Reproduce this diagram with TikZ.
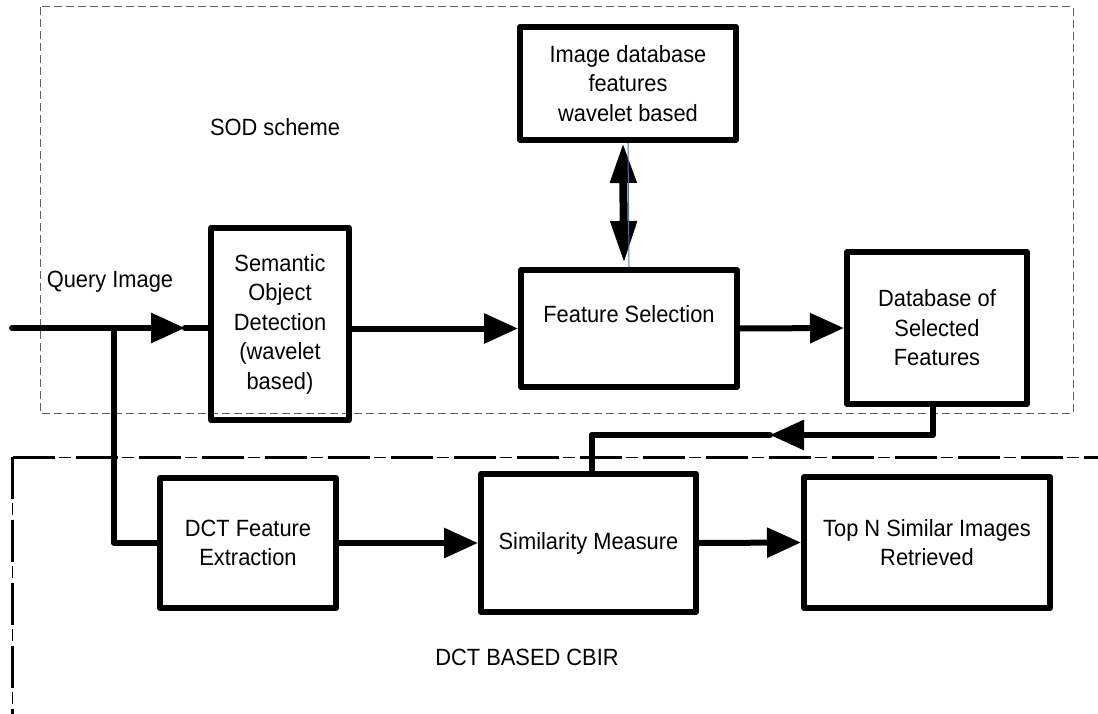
\documentclass[tikz,border=0pt]{standalone}
\usepackage{fontspec}
\setmainfont{Liberation Sans}[FakeStretch=0.93]
\usetikzlibrary{arrows.meta}
\definecolor{boxgray}{HTML}{606060}
\definecolor{thinblue}{HTML}{4472C4}
\begin{document}
\begin{tikzpicture}[x=1pt,y=-1pt,
  blk/.style={draw, line width=6pt, line join=round, align=center, inner sep=0pt,
              font=\fontsize{23.5}{29.5}\selectfont},
  conn/.style={line width=6pt, line cap=round, line join=round},
  tip/.style={-{Triangle[length=34pt,width=29pt]}},
  lbl/.style={font=\fontsize{23.5}{29.5}\selectfont, inner sep=0pt},
  sodframe/.style={draw=boxgray, line width=1pt, dash pattern=on 8pt off 4pt},
  dctthick/.style={line width=3pt, dash pattern=on 42pt off 21pt},
  dctthin/.style={line width=1pt, dash pattern=on 0pt off 46pt on 12pt off 5pt}]

\path[use as bounding box] (0,0) rectangle (1098,714);

% frames
\draw[sodframe] (40,7) rectangle (1073,413);
\begin{scope}
  \clip (0,0) rectangle (1098,714);
  \draw[dctthick] (12.5,457) -- (1110,457);
  \draw[dctthin]  (12.5,457) -- (1110,457);
  \draw[dctthick] (12.5,457) -- (12.5,715) -- (1110,715);
  \draw[dctthin]  (12.5,457) -- (12.5,715) -- (1110,715);
\end{scope}

% blocks
\node[blk, minimum width=138pt, minimum height=192pt] (sod) at (280,324)
  {Semantic\\Object\\Detection\\(wavelet\\based)};
\node[blk, minimum width=216pt, minimum height=113pt] (imgdb) at (628,83.5)
  {Image database\\features\\wavelet based};
\node[blk, minimum width=216pt, minimum height=117pt] (fs) at (629,328.5)
  {Feature Selection\\\mbox{}};
\node[blk, minimum width=180pt, minimum height=152pt] (dbsf) at (937,328)
  {Database of\\Selected\\Features};
\node[blk, minimum width=176pt, minimum height=130pt] (dct) at (248,543)
  {DCT Feature\\Extraction};
\node[blk, minimum width=215pt, minimum height=138pt] (sim) at (588.5,543)
  {Similarity Measure};
\node[blk, minimum width=246pt, minimum height=131pt] (topn) at (927,542.5)
  {Top N Similar Images\\Retrieved};

% labels
\node[lbl] (sodlbl) at (275,127) {SOD scheme};
\node[lbl] (qlbl) at (110,282) {Query Image};
\node[lbl] (dctlbl) at (527,657) {DCT BASED CBIR};

% connectors
\coordinate (q0) at (12,328);
\coordinate (qa) at (185,328);
\coordinate (br) at (114,328);
\coordinate (fb) at (770,435);
\draw[conn, tip] (q0) -- (qa);
\draw[conn] (qa) -- (qa -| sod.west);
\draw[conn] (br) |- (dct.west);
\draw[conn, tip] (sod.east |- fs.west) -- (fs.west);
\draw[conn, tip] (fs.east) -- (dbsf.west);
\draw[conn, tip] ([xshift=-4pt]dbsf.south) |- (fb);
\draw[conn] (fb) -| ([xshift=3pt]sim.north);
\draw[conn, tip] (dct.east) -- (sim.west);
\draw[conn, tip] (sim.east) -- (topn.west);

% double arrow
\draw[line width=8pt, {Triangle[length=40pt,width=25pt]}-{Triangle[length=42pt,width=25pt]}]
  ([xshift=-5pt]imgdb.south) -- ([xshift=-5pt,yshift=4pt]fs.north);
\draw[thinblue, line width=1pt] (imgdb.south) -- (fs.north);
\end{tikzpicture}
\end{document}
